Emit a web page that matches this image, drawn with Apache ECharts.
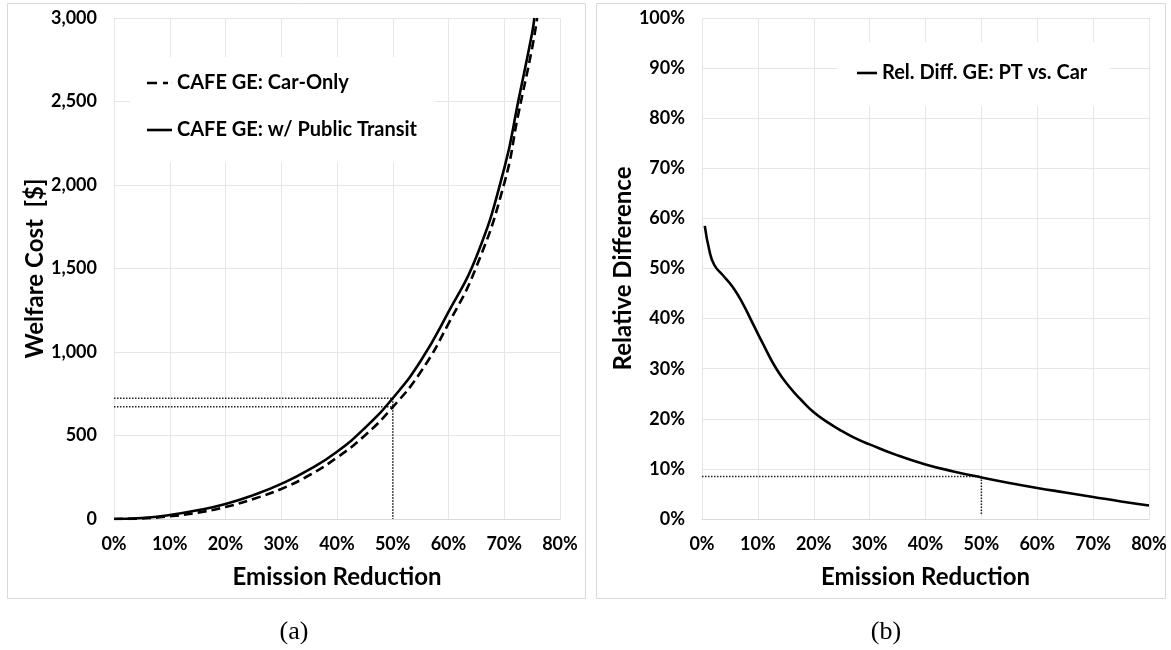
<!DOCTYPE html>
<html>
<head>
<meta charset="utf-8">
<script src="https://cdn.jsdelivr.net/npm/echarts@6/dist/echarts.min.js"></script>
<style>
html,body{margin:0;padding:0;background:#fff;}
#chart{width:1171px;height:650px;}
</style>
</head>
<body>
<div id="chart"></div>
<script>
// ---- Data ----
// Panel (a): welfare cost [$] vs emission reduction [%]
const xCar   = [0, 5, 10, 15, 20, 25, 30, 35, 40, 45, 50, 55, 60, 65, 70, 72.5, 75, 75.9];
const costCar = [0, 3.5, 16, 38, 72, 120, 180, 262, 368, 500, 670, 880, 1170, 1510, 2010, 2420, 2820, 3000];
const xPT    = [0, 5, 10, 15, 20, 25, 30, 35, 40, 45, 50, 55, 60, 65, 70, 72.5, 75, 75.4];
const costPT = [0, 6, 24, 52, 90, 143, 210, 295, 403, 545, 723, 946, 1240, 1570, 2100, 2500, 2910, 3000];
// Panel (b): relative difference [%] vs emission reduction [%]
const xRel = [0.5, 1.3, 2.2, 3.7, 5.5, 7.3, 9.1, 10.9, 13.3, 15.7, 17.8, 20, 22.5, 25, 27.5, 30, 35, 40, 45, 50, 55, 60, 65, 70, 75, 80];
const relDiff = [58.5, 53.7, 50.7, 48.7, 46.3, 43, 39, 35, 30, 26.3, 23.7, 21.3, 19.3, 17.6, 16.1, 14.9, 12.7, 10.9, 9.5, 8.3, 7.2, 6.2, 5.3, 4.4, 3.5, 2.7];
// Reference (dotted) markers
const refX = 50;
const refCostPT = 723;
const refCostCar = 672;
const refRel = 8.5;
const refRelBottom = 0.8;
// Names and labels
const nameCar = 'CAFE GE: Car-Only';
const namePT = 'CAFE GE: w/ Public Transit';
const nameRel = 'Rel. Diff. GE: PT vs. Car';
const xTitle = 'Emission Reduction';
const yTitleA = 'Welfare Cost  [$]';
const yTitleB = 'Relative Difference';
const captions = ['(a)', '(b)'];

const zip = (xs, ys) => xs.map((x, i) => [x, ys[i]]);

const FONT = 'Lato';
const gridColor = '#e6e6e6';
const tickLabel = {color: '#000', fontFamily: FONT, fontWeight: 'bold', fontSize: 18};
const axisTitle = {color: '#000', fontFamily: FONT, fontWeight: 'bold', fontSize: 24};
const legendText = {color: '#000', fontFamily: FONT, fontWeight: 'bold', fontSize: 20};
const dotted = {color: '#222', width: 1.5, type: [1.5, 1.5]};
const iconSolid = 'path://M0,0h25v2.6h-25z';
const iconDashed = 'path://M0,0h10v2.6h-10zM16,0h5v2.6h-5zM24.9,0h0.1v2.6h-0.1z';

function xAxis(gridIndex) {
  return {
    type: 'value', gridIndex, min: 0, max: 80, interval: 10,
    name: xTitle, nameLocation: 'middle', nameGap: 46, nameTextStyle: axisTitle,
    axisLine: {show: true, lineStyle: {color: '#d9d9d9', width: 1}},
    axisTick: {show: false},
    axisLabel: Object.assign({margin: 16, formatter: '{value}%'}, tickLabel),
    splitLine: {show: true, lineStyle: {color: gridColor, width: 1}}
  };
}

const chart = echarts.init(document.getElementById('chart'), null, {renderer: 'canvas'});
chart.setOption({
  backgroundColor: '#fff',
  animation: false,
  title: [
    {text: captions[0], left: 289, top: 614, textAlign: 'center',
     textStyle: {fontFamily: 'Liberation Serif', fontWeight: 'normal', fontSize: 26, color: '#000'}},
    {text: captions[1], left: 881, top: 614, textAlign: 'center',
     textStyle: {fontFamily: 'Liberation Serif', fontWeight: 'normal', fontSize: 26, color: '#000'}}
  ],
  graphic: [
    {type: 'rect', shape: {x: 7.5, y: 3.5, width: 578, height: 595}, style: {fill: 'none', stroke: '#d9d9d9', lineWidth: 1}, silent: true},
    {type: 'rect', shape: {x: 596.5, y: 3.5, width: 569, height: 595}, style: {fill: 'none', stroke: '#d9d9d9', lineWidth: 1}, silent: true}
  ],
  legend: [
    {data: [{name: nameCar, icon: iconDashed}, {name: namePT, icon: iconSolid}],
     orient: 'vertical', left: 130, top: 57,
     padding: [16, 18, 22, 17], itemGap: 27, itemWidth: 25, itemHeight: 2.6,
     symbolKeepAspect: false,
     backgroundColor: '#fff', selectedMode: false, textStyle: legendText},
    {data: [{name: nameRel, icon: iconSolid}], orient: 'vertical', left: 837, top: 42,
     padding: [21, 23, 23, 20], itemWidth: 20, itemHeight: 2.6,
     symbolKeepAspect: false,
     backgroundColor: '#fff', selectedMode: false, textStyle: legendText}
  ],
  grid: [
    {left: 114, top: 18, width: 446, height: 501, containLabel: false},
    {left: 702, top: 18, width: 447, height: 501, containLabel: false}
  ],
  xAxis: [xAxis(0), xAxis(1)],
  yAxis: [
    {type: 'value', gridIndex: 0, min: 0, max: 3000, interval: 500,
     name: yTitleA, nameLocation: 'middle', nameGap: 66, nameTextStyle: axisTitle,
     axisLine: {show: false}, axisTick: {show: false},
     axisLabel: Object.assign({margin: 17, formatter: v => v.toLocaleString('en-US')}, tickLabel),
     splitLine: {show: true, lineStyle: {color: gridColor, width: 1}}},
    {type: 'value', gridIndex: 1, min: 0, max: 100, interval: 10,
     name: yTitleB, nameLocation: 'middle', nameGap: 66, nameTextStyle: axisTitle,
     axisLine: {show: false}, axisTick: {show: false},
     axisLabel: Object.assign({margin: 17, formatter: '{value}%'}, tickLabel),
     splitLine: {show: true, lineStyle: {color: gridColor, width: 1}}}
  ],
  series: [
    {name: 'refA1', type: 'line', xAxisIndex: 0, yAxisIndex: 0, symbol: 'none', silent: true, z: 1,
     data: [[0, refCostPT], [refX, refCostPT]], lineStyle: dotted},
    {name: 'refA2', type: 'line', xAxisIndex: 0, yAxisIndex: 0, symbol: 'none', silent: true, z: 1,
     data: [[0, refCostCar], [refX, refCostCar]], lineStyle: dotted},
    {name: 'refA3', type: 'line', xAxisIndex: 0, yAxisIndex: 0, symbol: 'none', silent: true, z: 1,
     data: [[refX, refCostPT], [refX, 0]], lineStyle: dotted},
    {name: nameCar, type: 'line', xAxisIndex: 0, yAxisIndex: 0, symbol: 'none', smooth: true,
     data: zip(xCar, costCar), color: '#000', lineStyle: {color: '#000', width: 2.6, type: [9, 5]}},
    {name: namePT, type: 'line', xAxisIndex: 0, yAxisIndex: 0, symbol: 'none', smooth: true,
     data: zip(xPT, costPT), color: '#000', lineStyle: {color: '#000', width: 2.6, type: 'solid'}},
    {name: 'refB1', type: 'line', xAxisIndex: 1, yAxisIndex: 1, symbol: 'none', silent: true, z: 1,
     data: [[0, refRel], [refX, refRel]], lineStyle: dotted},
    {name: 'refB2', type: 'line', xAxisIndex: 1, yAxisIndex: 1, symbol: 'none', silent: true, z: 1,
     data: [[refX, refRel], [refX, refRelBottom]], lineStyle: dotted},
    {name: nameRel, type: 'line', xAxisIndex: 1, yAxisIndex: 1, symbol: 'none', smooth: true,
     data: zip(xRel, relDiff), color: '#000', lineStyle: {color: '#000', width: 2.6, type: 'solid'}}
  ]
});
</script>
</body>
</html>
